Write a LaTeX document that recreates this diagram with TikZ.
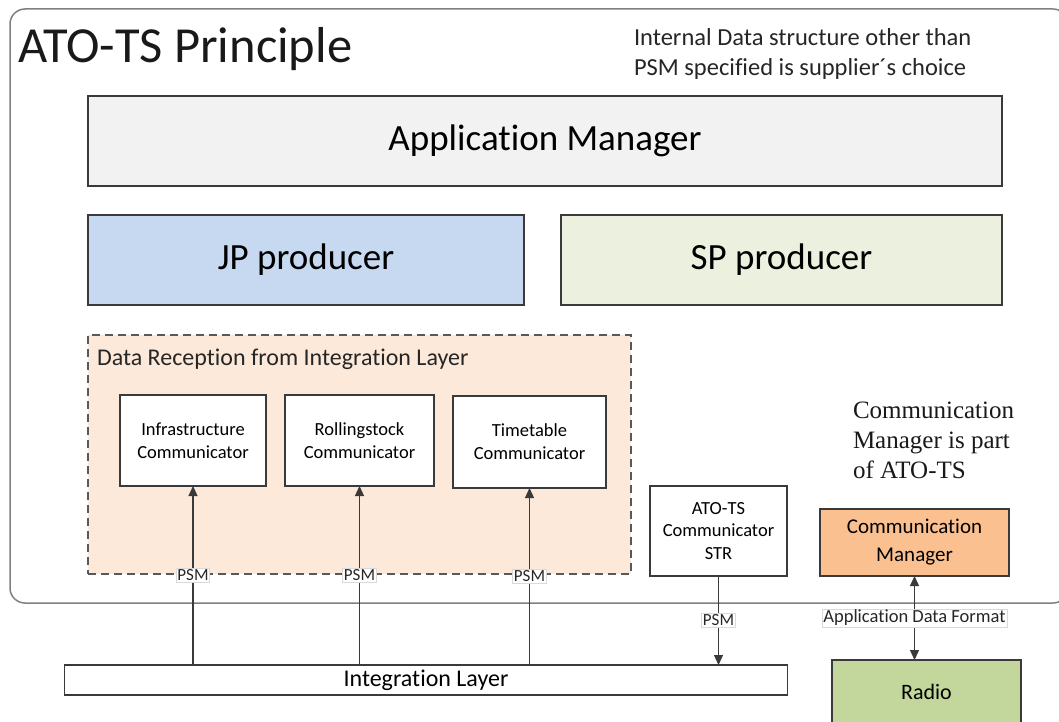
\documentclass[tikz,border=0pt]{standalone}
\usepackage{fontspec}
\setmainfont{Carlito}[Ligatures=NoCommon, Contextuals=NoAlternate]
\newfontfamily\notefont{Liberation Serif}
\usetikzlibrary{arrows.meta}

\definecolor{appfill}{HTML}{F2F2F2}
\definecolor{jpfill}{HTML}{C6D9F1}
\definecolor{spfill}{HTML}{EBF1DE}
\definecolor{drfill}{HTML}{FDE9D9}
\definecolor{cmfill}{HTML}{FAC090}
\definecolor{radiofill}{HTML}{C3D69B}
\definecolor{edge}{HTML}{3A3A3A}

\newcommand{\fs}[2]{\fontsize{#1}{#2}\selectfont}

\tikzset{
  box/.style={draw=edge, line width=1.2pt, outer sep=0pt, inner sep=0pt,
    align=center, anchor=north west},
  txt/.style={inner sep=0pt, outer sep=0pt},
  conn/.style={draw=edge, line width=1.2pt},
  tip/.tip={Triangle[length=10pt,width=9pt]},
  lbl/.style={fill=white, draw=black!15, line width=0.6pt, inner sep=1.2pt,
    font=\fs{17}{19}, text=black!85},
}

\begin{document}
\begin{tikzpicture}[x=1pt,y=-1pt]
\useasboundingbox (0,0) rectangle (1059,722);
\begin{scope}
\clip (0,0) rectangle (1059,722);

% outer frame of the ATO-TS
\draw[draw=black!50, line width=1.5pt, fill=white, rounded corners=15pt]
  (10,9) rectangle (1068,603);

\node[txt, anchor=base west, font=\fs{50.5}{60}, text=black!90] (title)
  at (18,62.5) {ATO-TS Principle};

\node[txt, anchor=west, align=left, font=\fs{24.5}{30}, text=black!85] (note)
  at (634,54) {Internal Data structure other than\\PSM specified is supplier´s choice};

% upper layers
\node[box, fill=appfill, minimum width=914pt, minimum height=90pt,
  font=\fs{37}{44}] (app) at (88,96) {Application Manager};
\node[box, fill=jpfill, minimum width=436pt, minimum height=90pt,
  font=\fs{37}{44}] (jp) at (88,215) {JP producer};
\node[box, fill=spfill, minimum width=441pt, minimum height=90pt,
  font=\fs{37}{44}] (sp) at (561,215) {SP producer};

% data reception group
\node[draw=black!65, dash pattern=on 8pt off 5pt, line width=1.5pt,
  fill=drfill, anchor=north west, minimum width=543pt, minimum height=239pt,
  inner sep=0pt, outer sep=0pt] (dr) at (88,335) {};
\node[txt, anchor=base west, font=\fs{24}{29}, text=black!85] (drtitle)
  at (97,365) {Data Reception from Integration Layer};

\node[box, fill=white, minimum width=146pt, minimum height=91pt,
  font=\fs{18.5}{23}] (infra) at (120,395) {Infrastructure\\Communicator};
\node[box, fill=white, minimum width=149pt, minimum height=91pt,
  font=\fs{18.5}{23}] (rolling) at (285,395) {Rollingstock\\Communicator};
\node[box, fill=white, minimum width=153pt, minimum height=92pt,
  font=\fs{18.5}{23}] (tt) at (453,396) {Timetable\\Communicator};

\node[box, fill=white, minimum width=137pt, minimum height=90pt,
  font=\fs{18.5}{22.5}] (str) at (650,486) {ATO-TS\\Communicator\\STR};

\node[txt, anchor=west, align=left, font=\notefont\fs{25}{30}, text=black!90]
  (cmnote) at (853,440) {Communication\\Manager is part\\of ATO-TS};

\node[box, fill=cmfill, minimum width=189pt, minimum height=67pt,
  font=\fs{21}{28}] (cm) at (820,509) {Communication\\Manager};

% outside the ATO-TS
\node[box, fill=white, minimum width=723pt, minimum height=30pt,
  font=\fs{24}{29}] (il) at (64.5,665) {Integration Layer};
\node[box, fill=radiofill, minimum width=189pt, minimum height=64pt,
  font=\fs{22}{26}] (radio) at (832,660) {Radio};

% connectors
\draw[conn, -tip] (il.north -| infra.south) -- (infra.south)
  node[lbl, midway] {PSM};
\draw[conn, -tip] (il.north -| rolling.south) -- (rolling.south)
  node[lbl, midway] {PSM};
\draw[conn, -tip] (il.north -| tt.south) -- (tt.south)
  node[lbl, midway] {PSM};
\draw[conn, -tip] (str.south) -- (str.south |- il.north)
  node[lbl, midway] {PSM};
\draw[conn, tip-tip] (cm.south) -- (cm.south |- radio.north)
  node[lbl, midway, font=\fs{18.5}{20}] {Application Data Format};
\end{scope}
\end{tikzpicture}
\end{document}
